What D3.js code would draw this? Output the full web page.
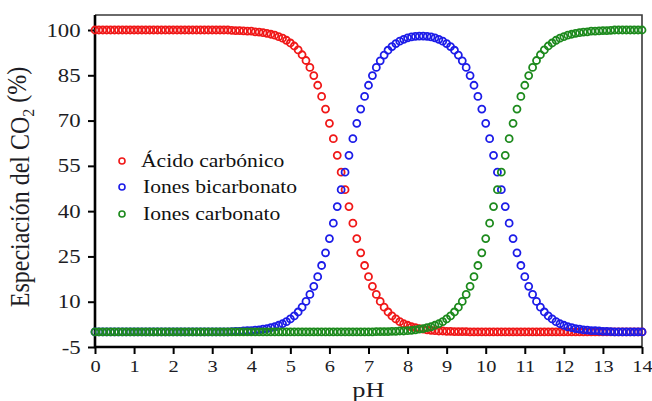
<!DOCTYPE html>
<html>
<head>
<meta charset="utf-8">
<script src="https://cdn.jsdelivr.net/npm/d3@7"></script>
<style>
body { margin: 0; background: #fff; }
svg { display: block; }
</style>
</head>
<body>
<svg id="chart" width="652" height="401"></svg>
<script>
// pH de 0 a 14, un punto cada 0.1
const PH_STEP = 0.1;

// Ácido carbónico (%)
const ACIDO = [
  100,100,100,100,100,100,100,100,100,100,
  100,100,100,100,100,100,100,100,100,100,
  100,100,100,100,100,100,100,100,100,100,
  100,100,100,100,100,
  99.9,99.8,99.8,99.7,99.6,99.6,99.4,99.3,99.1,98.9,
  98.6,98.3,97.8,97.3,96.6,95.7,94.7,93.4,91.8,89.9,
  87.6,84.9,81.7,78.0,73.8,69.1,64.0,58.5,52.9,47.1,
  41.5,36.0,30.9,26.2,22.0,18.3,15.1,12.4,10.1,8.2,
  6.6,5.3,4.3,3.4,2.7,2.2,1.7,1.4,1.1,
  0.9,0.7,0.5,0.4,0.3,0.3,0.2,0.2,0.1,0.1,0.1,0.1,
  0,0,0,0,0,0,0,0,0,0,
  0,0,0,0,0,0,0,0,0,0,
  0,0,0,0,0,0,0,0,0,0,
  0,0,0,0,0,0,0,0,0,0,
  0,0,0,0,0
];

// Iones bicarbonato (%)
const BICARB = [
  0,0,0,0,0,0,0,0,0,0,
  0,0,0,0,0,0,0,0,0,0,
  0,0,0,0,0,0,0,0,0,0,
  0,0,0,0,0,
  0.1,0.2,0.2,0.3,0.4,0.4,0.6,0.7,0.9,1.1,
  1.4,1.7,2.2,2.7,3.4,4.3,5.3,6.6,8.2,10.1,
  12.4,15.1,18.3,22.0,26.2,30.9,36.0,41.5,47.1,52.9,
  58.5,64.0,69.1,73.8,78.0,81.7,84.9,87.6,89.8,91.7,
  93.3,94.5,95.5,96.3,96.9,97.4,97.7,97.9,98.0,
  98.0,97.9,97.7,97.4,96.9,96.3,95.5,94.5,93.3,91.7,
  89.8,87.6,84.9,81.7,78.0,73.8,69.1,64.0,58.5,52.9,
  47.1,41.5,36.0,30.9,26.2,22.0,18.3,15.1,12.4,10.1,
  8.2,6.6,5.3,4.3,3.4,2.7,2.2,1.7,1.4,1.1,
  0.9,0.7,0.6,0.4,0.4,0.3,0.2,0.2,0.1,
  0,0,0,0,0,0,0,0
];

// Iones carbonato (%)
const CARB = [
  0,0,0,0,0,0,0,0,0,0,
  0,0,0,0,0,0,0,0,0,0,
  0,0,0,0,0,0,0,0,0,0,
  0,0,0,0,0,0,0,0,0,0,
  0,0,0,0,0,0,0,0,0,0,
  0,0,0,0,0,0,0,0,0,0,
  0,0,0,0,0,0,0,0,0,0,
  0,0,
  0.1,0.1,0.1,0.1,0.2,0.2,0.3,0.3,0.4,0.5,0.7,0.9,
  1.1,1.4,1.7,2.2,2.7,3.4,4.3,5.3,6.6,8.2,
  10.1,12.4,15.1,18.3,22.0,26.2,30.9,36.0,41.5,47.1,
  52.9,58.5,64.0,69.1,73.8,78.0,81.7,84.9,87.6,89.9,
  91.8,93.4,94.7,95.7,96.6,97.3,97.8,98.3,98.6,98.9,
  99.1,99.3,99.4,99.6,99.6,99.7,99.8,99.8,99.9,
  100,100,100,100,100,100,100,100
];

const X_TICKS = [0, 1, 2, 3, 4, 5, 6, 7, 8, 9, 10, 11, 12, 13, 14];
const Y_TICKS = [-5, 10, 25, 40, 55, 70, 85, 100];
const SERIES_NAMES = ["Ácido carbónico", "Iones bicarbonato", "Iones carbonato"];
const SERIES_COLORS = ["#f01818", "#1c1ce8", "#1d8a1d"];

const SVG = d3.select('#chart');
const LEFT = 95, RIGHT = 642, TOP = 15, BOTTOM = 347;
const X_SCALE = d3.scaleLinear().domain([0, 14]).range([LEFT, RIGHT]);
const Y_SCALE = d3.scaleLinear().domain([-5, 100]).range([BOTTOM, 30]);
const MARK_R = 3.5;      // radio del marcador
const MARK_WID = 1.8;    // grosor del borde del marcador
const TEXT_COR = "#1c1c24";
const FONT = "'Liberation Serif', 'Times New Roman', serif";
const STRETCH = 1.2;     // el texto original esta ensanchado

let ph = d3.range(ACIDO.length).map(i => +(i * PH_STEP).toFixed(1));

/** marco y ejes **/
function draw_axes() {
    SVG.append("path")
        .attr("d", `M${LEFT},${TOP}H${RIGHT}V${BOTTOM}`)
        .attr("fill", "none")
        .attr("stroke", "#3a3a3a")
        .attr("stroke-width", 1.6);

    let x_axis = SVG.append("g")
        .attr("transform", `translate(0,${BOTTOM})`)
        .call(d3.axisBottom(X_SCALE).tickValues(X_TICKS).tickSize(7).tickPadding(6)
            .tickFormat(d => String(d)));
    let y_axis = SVG.append("g")
        .attr("transform", `translate(${LEFT},0)`)
        .call(d3.axisLeft(Y_SCALE).tickValues(Y_TICKS).tickSize(7).tickPadding(5)
            .tickFormat(d => String(d)));

    for (let ax of [x_axis, y_axis]) {
        ax.select(".domain").remove();
        ax.selectAll(".tick line").attr("stroke", "#000").attr("stroke-width", 2);
        ax.selectAll("text")
            .attr("font-family", FONT)
            .attr("font-size", ax === x_axis ? 17 : 19)
            .attr("fill", TEXT_COR)
            .attr("transform", `scale(${STRETCH},1)`);
    }

    SVG.append("path")
        .attr("d", `M${LEFT},${TOP}V${BOTTOM}H${RIGHT}`)
        .attr("fill", "none")
        .attr("stroke", "#000")
        .attr("stroke-width", 2.6);
}

/** una serie de circulos huecos **/
function draw_series(values, color) {
    SVG.append("g")
        .selectAll("circle")
        .data(values)
        .join("circle")
        .attr("cx", (d, i) => X_SCALE(ph[i]))
        .attr("cy", d => Y_SCALE(d))
        .attr("r", MARK_R)
        .attr("fill", "none")
        .attr("stroke", color)
        .attr("stroke-width", MARK_WID);
}

/** leyenda **/
function draw_legend() {
    let rows = [{y: 161, tx: 141}, {y: 187, tx: 143}, {y: 214, tx: 143}];
    SERIES_NAMES.forEach((name, i) => {
        SVG.append("circle")
            .attr("cx", 122)
            .attr("cy", rows[i].y)
            .attr("r", 3)
            .attr("fill", "none")
            .attr("stroke", SERIES_COLORS[i])
            .attr("stroke-width", 1.6);
        SVG.append("text")
            .text(name)
            .attr("transform", `translate(${rows[i].tx},${rows[i].y + 6}) scale(${STRETCH},1)`)
            .attr("font-family", FONT)
            .attr("font-size", 18)
            .attr("fill", "#111");
    });
}

/** titulos de ejes **/
function draw_titles() {
    SVG.append("text")
        .text("pH")
        .attr("transform", `translate(${(LEFT + RIGHT) / 2},397) scale(${STRETCH},1)`)
        .attr("text-anchor", "middle")
        .attr("font-family", FONT)
        .attr("font-size", 22)
        .attr("fill", TEXT_COR);

    let t = SVG.append("text")
        .attr("transform", `translate(29,${(TOP + BOTTOM) / 2 + 6}) rotate(-90) scale(1,1.1)`)
        .attr("text-anchor", "middle")
        .attr("font-family", FONT)
        .attr("font-size", 24)
        .attr("fill", TEXT_COR);
    t.append("tspan").text("Especiación del CO");
    t.append("tspan").text("2").attr("font-size", 16).attr("dy", "0.3em");
    t.append("tspan").text(" (%)").attr("dy", "-0.3em");
}

draw_axes();
draw_series(ACIDO, SERIES_COLORS[0]);
draw_series(BICARB, SERIES_COLORS[1]);
draw_series(CARB, SERIES_COLORS[2]);
draw_legend();
draw_titles();
</script>
</body>
</html>
